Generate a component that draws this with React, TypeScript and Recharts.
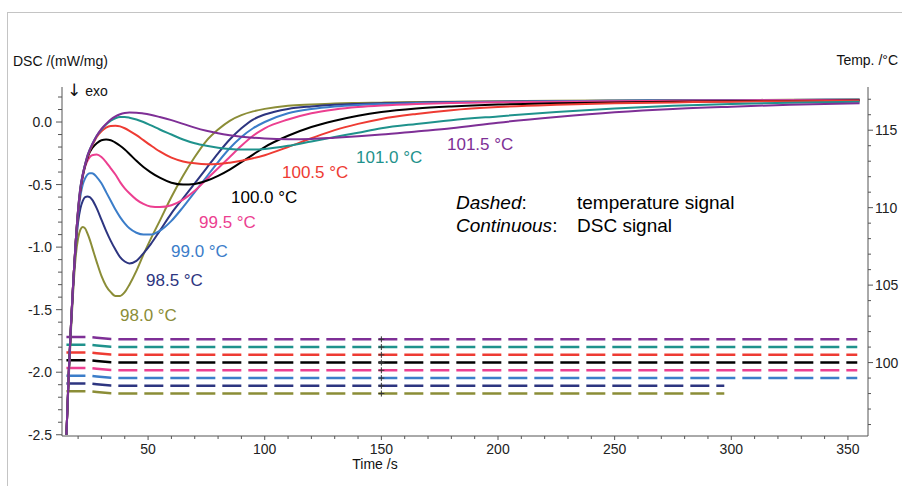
import React from 'react';
import { ComposedChart, Line, Scatter, XAxis, YAxis } from 'recharts';

// time (s) shared by all DSC curves
const time = [15, 16, 17, 18, 19, 20, 21, 22, 23, 24, 25, 26, 28, 30, 32, 34, 36, 38, 40, 42, 45, 48, 51, 55, 60, 65, 70, 75, 80, 85, 90, 95, 100, 110, 120, 130, 140, 150, 165, 180, 200, 225, 250, 275, 300, 325, 355];

// DSC signal, mW/mg, one array per isothermal temperature
const dsc980 = [-2.5, -2.05, -1.65, -1.32, -1.07, -0.93, -0.86, -0.84, -0.85, -0.89, -0.94, -1.0, -1.12, -1.23, -1.31, -1.36, -1.39, -1.39, -1.36, -1.3, -1.19, -1.06, -0.94, -0.79, -0.6, -0.43, -0.28, -0.15, -0.06, 0.01, 0.055, 0.085, 0.105, 0.13, 0.14, 0.148, 0.152, 0.155, 0.16, 0.163, 0.166, 0.17, 0.172, 0.174, 0.176, 0.178, 0.18];
const dsc985 = [-2.5, -2.02, -1.62, -1.28, -1.0, -0.8, -0.69, -0.63, -0.6, -0.595, -0.6, -0.62, -0.69, -0.78, -0.87, -0.95, -1.02, -1.08, -1.115, -1.13, -1.11, -1.05, -0.98, -0.87, -0.73, -0.61, -0.49, -0.37, -0.25, -0.14, -0.05, 0.02, 0.06, 0.105, 0.125, 0.138, 0.145, 0.15, 0.155, 0.16, 0.163, 0.167, 0.17, 0.173, 0.175, 0.177, 0.179];
const dsc990 = [-2.5, -2.0, -1.6, -1.26, -0.97, -0.74, -0.59, -0.5, -0.45, -0.42, -0.41, -0.41, -0.44, -0.49, -0.56, -0.63, -0.7, -0.76, -0.81, -0.85, -0.885, -0.9, -0.9, -0.87, -0.79, -0.68, -0.56, -0.44, -0.32, -0.21, -0.12, -0.05, 0.0, 0.07, 0.105, 0.125, 0.137, 0.145, 0.152, 0.157, 0.162, 0.166, 0.17, 0.173, 0.175, 0.177, 0.179];
const dsc995 = [-2.5, -2.0, -1.6, -1.25, -0.96, -0.72, -0.55, -0.44, -0.36, -0.31, -0.28, -0.265, -0.26, -0.28, -0.32, -0.37, -0.42, -0.48, -0.53, -0.57, -0.62, -0.655, -0.675, -0.68, -0.665, -0.62, -0.55, -0.46, -0.37, -0.28, -0.19, -0.11, -0.05, 0.02, 0.07, 0.1, 0.12, 0.133, 0.145, 0.152, 0.158, 0.163, 0.167, 0.17, 0.173, 0.175, 0.177];
const dsc1000 = [-2.5, -2.0, -1.6, -1.25, -0.95, -0.71, -0.54, -0.43, -0.35, -0.29, -0.24, -0.21, -0.17, -0.145, -0.14, -0.145, -0.165, -0.19, -0.22, -0.255, -0.31, -0.36, -0.4, -0.445, -0.485, -0.5, -0.495, -0.47, -0.43, -0.38, -0.32, -0.26, -0.2, -0.11, -0.04, 0.01, 0.05, 0.08, 0.108, 0.125, 0.14, 0.15, 0.157, 0.162, 0.166, 0.169, 0.172];
const dsc1005 = [-2.5, -2.0, -1.6, -1.25, -0.95, -0.7, -0.53, -0.42, -0.34, -0.28, -0.23, -0.19, -0.12, -0.075, -0.045, -0.032, -0.03, -0.035, -0.05, -0.07, -0.105, -0.145, -0.185, -0.235, -0.285, -0.315, -0.33, -0.337, -0.335, -0.325, -0.31, -0.29, -0.265, -0.2, -0.13, -0.065, -0.015, 0.025, 0.065, 0.095, 0.12, 0.138, 0.15, 0.157, 0.163, 0.167, 0.17];
const dsc1010 = [-2.5, -2.0, -1.6, -1.25, -0.95, -0.7, -0.52, -0.42, -0.34, -0.27, -0.22, -0.18, -0.11, -0.06, -0.02, 0.01, 0.03, 0.04, 0.04, 0.035, 0.02, 0.0, -0.025, -0.06, -0.1, -0.14, -0.17, -0.19, -0.205, -0.215, -0.22, -0.22, -0.215, -0.19, -0.155, -0.12, -0.085, -0.05, -0.015, 0.015, 0.045, 0.08, 0.108, 0.13, 0.145, 0.155, 0.162];
const dsc1015 = [-2.5, -2.0, -1.6, -1.25, -0.95, -0.7, -0.52, -0.42, -0.34, -0.27, -0.22, -0.18, -0.11, -0.055, -0.015, 0.02, 0.045, 0.062, 0.072, 0.076, 0.075, 0.068, 0.058, 0.04, 0.015, -0.015, -0.045, -0.07, -0.09, -0.105, -0.117, -0.126, -0.132, -0.137, -0.135, -0.125, -0.113, -0.1, -0.075, -0.05, -0.005, 0.04, 0.078, 0.105, 0.123, 0.138, 0.15];

// temperature signal (°C); the two lowest runs stop earlier
const tempTimeLong = [15, 25, 28, 34, 40, 354];
const tempTimeShort = [15, 25, 28, 34, 40, 297];
const temp980 = [98.15, 98.15, 98.1, 98.02, 98.0, 98.0];
const temp985 = [98.65, 98.65, 98.6, 98.52, 98.5, 98.5];
const temp990 = [99.15, 99.15, 99.1, 99.02, 99.0, 99.0];
const temp995 = [99.65, 99.65, 99.6, 99.52, 99.5, 99.5];
const temp1000 = [100.15, 100.15, 100.1, 100.02, 100.0, 100.0];
const temp1005 = [100.65, 100.65, 100.6, 100.52, 100.5, 100.5];
const temp1010 = [101.15, 101.15, 101.1, 101.02, 101.0, 101.0];
const temp1015 = [101.65, 101.65, 101.6, 101.52, 101.5, 101.5];

// cursor crosses at t = 150 s
const cursorTime = 150;
const cursorTemps = [98.0, 98.5, 99.0, 99.5, 100.0, 100.5, 101.0, 101.5];

const xMajor = [50, 100, 150, 200, 250, 300, 350];
const leftMajor = [-2.5, -2.0, -1.5, -1.0, -0.5, 0.0];
const rightMajor = [100, 105, 110, 115];

const xTicks = Array.from({ length: 34 }, (_, i) => 20 + i * 10);
const leftTicks = Array.from({ length: 28 }, (_, i) => Math.round((-2.5 + i * 0.1) * 10) / 10);
const rightTicks = Array.from({ length: 22 }, (_, i) => 96 + i);

const FONT = "'Liberation Sans', Arial, sans-serif";
const AXIS = '#555';

const series = [
  { key: 'd980', color: '#8b8d37', dsc: dsc980, temp: temp980, tt: tempTimeShort },
  { key: 'd985', color: '#2d3580', dsc: dsc985, temp: temp985, tt: tempTimeShort },
  { key: 'd990', color: '#3b7dc9', dsc: dsc990, temp: temp990, tt: tempTimeLong },
  { key: 'd995', color: '#ec3f90', dsc: dsc995, temp: temp995, tt: tempTimeLong },
  { key: 'd1000', color: '#000000', dsc: dsc1000, temp: temp1000, tt: tempTimeLong },
  { key: 'd1005', color: '#ee3b33', dsc: dsc1005, temp: temp1005, tt: tempTimeLong },
  { key: 'd1010', color: '#1f928c', dsc: dsc1010, temp: temp1010, tt: tempTimeLong },
  { key: 'd1015', color: '#7e2f96', dsc: dsc1015, temp: temp1015, tt: tempTimeLong },
];

const rows = time.map((t, i) => {
  const r: Record<string, number> = { t };
  series.forEach((s) => { r[s.key] = s.dsc[i]; });
  return r;
});

const LeftTick = (props: any) => {
  const { x, y, payload } = props;
  const v = payload.value;
  const major = leftMajor.some((m) => Math.abs(m - v) < 1e-6);
  return (
    <g>
      <line x1={x - (major ? 6 : 4)} x2={x} y1={y} y2={y} stroke={AXIS} />
      {major && (
        <text x={x - 10} y={y + 5} textAnchor="end" fontSize={14} fontFamily={FONT} fill="#222">{v.toFixed(1)}</text>
      )}
    </g>
  );
};

const RightTick = (props: any) => {
  const { x, y, payload } = props;
  const v = payload.value;
  const major = rightMajor.includes(v);
  return (
    <g>
      <line x1={x} x2={x + (major ? 5 : 3)} y1={y} y2={y} stroke={AXIS} />
      {major && (
        <text x={x + 7} y={y + 5} fontSize={14} fontFamily={FONT} fill="#222">{v}</text>
      )}
    </g>
  );
};

const BottomTick = (props: any) => {
  const { x, y, payload } = props;
  const v = payload.value;
  const major = xMajor.includes(v);
  return (
    <g>
      <line x1={x} x2={x} y1={y} y2={y + (major ? 4 : 3)} stroke={AXIS} />
      {major && (
        <text x={x} y={y + 18} textAnchor="middle" fontSize={14} fontFamily={FONT} fill="#222">{v}</text>
      )}
    </g>
  );
};

// small "+" marker where the cursor crosses each temperature trace
const Cross = (props: any) => {
  const { cx, cy } = props;
  return <path d={`M${cx - 3},${cy}H${cx + 3}M${cx},${cy - 3}V${cy + 3}`} stroke="#333" strokeWidth={1} fill="none" />;
};

export default function App() {
  const cursor = cursorTemps.map((T) => ({ t: cursorTime, T }));
  return (
    <div style={{ position: 'fixed', left: 0, top: 0, width: 902, height: 486, background: '#fff', fontFamily: FONT }}>
      <div style={{ position: 'absolute', left: 7, top: 12, width: 900, height: 480, borderLeft: '1.5px solid #c4c4c4', borderTop: '1.5px solid #c4c4c4' }} />
      <div style={{ position: 'absolute', left: 0, top: 0 }}>
        <ComposedChart width={902} height={486} data={rows} margin={{ top: 87, right: 0, bottom: 0, left: 0 }}>
          <XAxis
            dataKey="t"
            type="number"
            domain={[13.1, 358.6]}
            allowDataOverflow
            ticks={xTicks}
            interval={0}
            tickSize={0}
            tickMargin={0}
            tickLine={false}
            tick={<BottomTick />}
            height={50}
            stroke={AXIS}
          />
          <YAxis
            yAxisId="left"
            type="number"
            domain={[-2.51, 0.28]}
            allowDataOverflow
            ticks={leftTicks}
            interval={0}
            tickSize={0}
            tickMargin={0}
            tickLine={false}
            tick={<LeftTick />}
            width={62}
            stroke={AXIS}
          />
          <YAxis
            yAxisId="right"
            orientation="right"
            type="number"
            domain={[95.26, 117.79]}
            allowDataOverflow
            ticks={rightTicks}
            interval={0}
            tickSize={0}
            tickMargin={0}
            tickLine={false}
            tick={<RightTick />}
            width={34}
            stroke={AXIS}
          />
          {series.map((s) => (
            <Line
              key={`temp-${s.key}`}
              yAxisId="right"
              data={s.tt.map((t, i) => ({ t, T: s.temp[i] }))}
              dataKey="T"
              type="linear"
              stroke={s.color}
              strokeWidth={2.5}
              strokeDasharray="19 7"
              dot={false}
              activeDot={false}
              isAnimationActive={false}
            />
          ))}
          <Scatter yAxisId="right" data={cursor} dataKey="T" shape={<Cross />} isAnimationActive={false} />
          {series.map((s) => (
            <Line
              key={s.key}
              yAxisId="left"
              dataKey={s.key}
              type="monotone"
              stroke={s.color}
              strokeWidth={2}
              dot={false}
              activeDot={false}
              isAnimationActive={false}
            />
          ))}
        </ComposedChart>
      </div>
      <svg width={902} height={486} style={{ position: 'absolute', left: 0, top: 0, pointerEvents: 'none' }} fontFamily={FONT}>
        <text x={13} y={66} fontSize={14} fill="#111">DSC /(mW/mg)</text>
        <text x={67} y={96} fontSize={14} fill="#111"><tspan fontSize={17} fontFamily="'DejaVu Sans', sans-serif">↓</tspan> exo</text>
        <text x={898} y={65} fontSize={14} fill="#111" textAnchor="end">Temp. /°C</text>
        <text x={375} y={469} fontSize={14} fill="#111" textAnchor="middle">Time /s</text>

        <text x={120} y={321} fontSize={17} fill="#8b8d37">98.0 °C</text>
        <text x={146} y={286} fontSize={17} fill="#2d3580">98.5 °C</text>
        <text x={171} y={257} fontSize={17} fill="#3b7dc9">99.0 °C</text>
        <text x={199} y={228} fontSize={17} fill="#ec3f90">99.5 °C</text>
        <text x={231} y={203} fontSize={17} fill="#000">100.0 °C</text>
        <text x={282} y={178} fontSize={17} fill="#ee3b33">100.5 °C</text>
        <text x={356} y={163} fontSize={17} fill="#1f928c">101.0 °C</text>
        <text x={447} y={150} fontSize={17} fill="#7e2f96">101.5 °C</text>

        <text x={456} y={209} fontSize={19} fill="#000" fontStyle="italic">Dashed<tspan fontStyle="normal">:</tspan></text>
        <text x={577} y={209} fontSize={19} fill="#000">temperature signal</text>
        <text x={456} y={232} fontSize={19} fill="#000" fontStyle="italic">Continuous<tspan fontStyle="normal">:</tspan></text>
        <text x={577} y={232} fontSize={19} fill="#000">DSC signal</text>
      </svg>
    </div>
  );
}
